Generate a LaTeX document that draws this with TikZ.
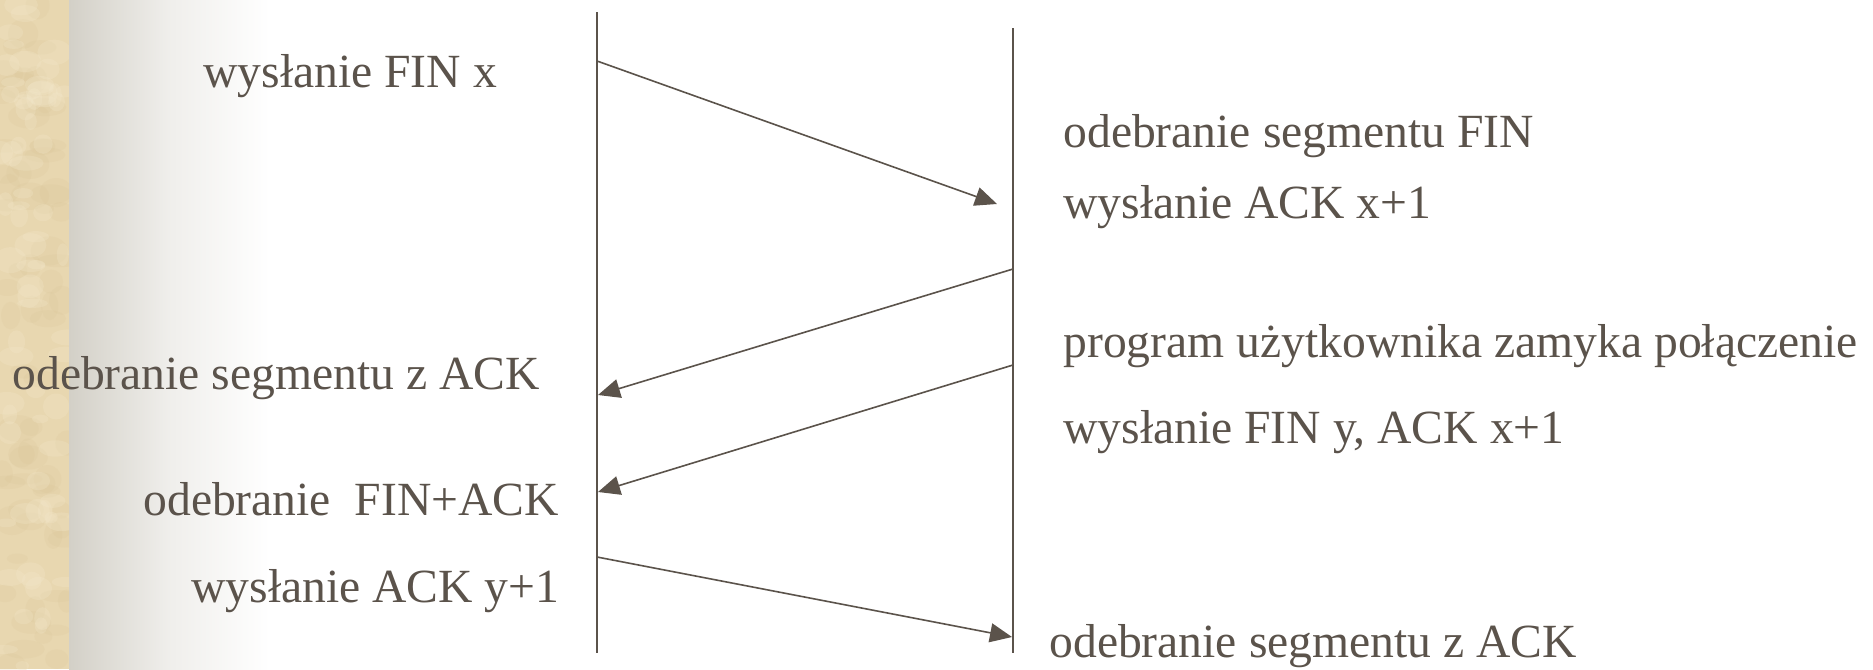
\documentclass[tikz,border=0pt]{standalone}
\usepackage{fontspec}
\setmainfont{Liberation Serif}
\usepackage{tikz}
\usetikzlibrary{arrows.meta}

\definecolor{ink}{RGB}{91,83,75}
\definecolor{parch}{RGB}{232,215,176}
\definecolor{parchdark}{RGB}{216,195,150}
\definecolor{parchlight}{RGB}{244,233,205}
\definecolor{fade}{RGB}{211,208,199}

\tikzset{
  lbl/.style={inner sep=0pt, text=ink, font=\fontsize{23.8}{28}\selectfont},
  life/.style={draw=ink, line width=1pt},
  msg/.style={draw=ink, line width=0.8pt, -{Triangle[length=11pt,width=9.5pt]}},
}

\begin{document}
\begin{tikzpicture}[x=0.5pt,y=-0.5pt]
  % tlo: pasek z papierem i przejscie do bieli
  \useasboundingbox (0,0) rectangle (1873,669);
  \fill[white] (0,0) rectangle (1873,669);
  \shade[left color=fade, right color=white, middle color=fade!35!white] (69,0) rectangle (270,669);
  \fill[parch] (0,0) rectangle (69,669);
  \begin{scope}
    \clip (0,0) rectangle (69,669);
    \pgfmathsetseed{7}
    \foreach \i in {1,...,70}
      \fill[parchdark, opacity=0.18] ({rnd*69},{rnd*669}) ellipse ({8+rnd*14} and {5+rnd*10});
    \foreach \i in {1,...,70}
      \fill[parchlight, opacity=0.25] ({rnd*69},{rnd*669}) ellipse ({6+rnd*12} and {4+rnd*9});
  \end{scope}

  % linie czasu
  \coordinate (c0) at (597,12);
  \coordinate (c1) at (597,653);
  \coordinate (s0) at (1013,28);
  \coordinate (s1) at (1013,653);
  \draw[life] (c0) -- (c1);
  \draw[life] (s0) -- (s1);

  % segmenty
  \coordinate (m1a) at (597,61);
  \coordinate (m1b) at (997,204);
  \coordinate (m2a) at (1013,269);
  \coordinate (m2b) at (598,395);
  \coordinate (m3a) at (1013,365);
  \coordinate (m3b) at (598,492);
  \coordinate (m4a) at (597,557);
  \coordinate (m4b) at (1012,637);
  \foreach \a/\b in {m1a/m1b, m2a/m2b, m3a/m3b, m4a/m4b}
    \draw[msg] (\a) -- (\b);

  % opisy po lewej
  \node[lbl, anchor=base west] (n00) at (203,87) {wysłanie FIN x};
  \node[lbl, anchor=base west] (n01) at (12,389) {odebranie segmentu z ACK};
  \node[lbl, anchor=base west] (n02) at (143,515) {odebranie\ \ FIN+ACK};
  \node[lbl, anchor=base west] (n03) at (191,602) {wysłanie ACK y+1};

  % opisy po prawej
  \node[lbl, anchor=base west] (n10) at (1063,147) {odebranie segmentu FIN};
  \node[lbl, anchor=base west] (n11) at (1063,218) {wysłanie ACK x+1};
  \node[lbl, anchor=base west] (n12) at (1063,357) {program użytkownika zamyka połączenie};
  \node[lbl, anchor=base west] (n13) at (1063,443) {wysłanie FIN y, ACK x+1};
  \node[lbl, anchor=base west] (n14) at (1049,657) {odebranie segmentu z ACK};
\end{tikzpicture}
\end{document}
